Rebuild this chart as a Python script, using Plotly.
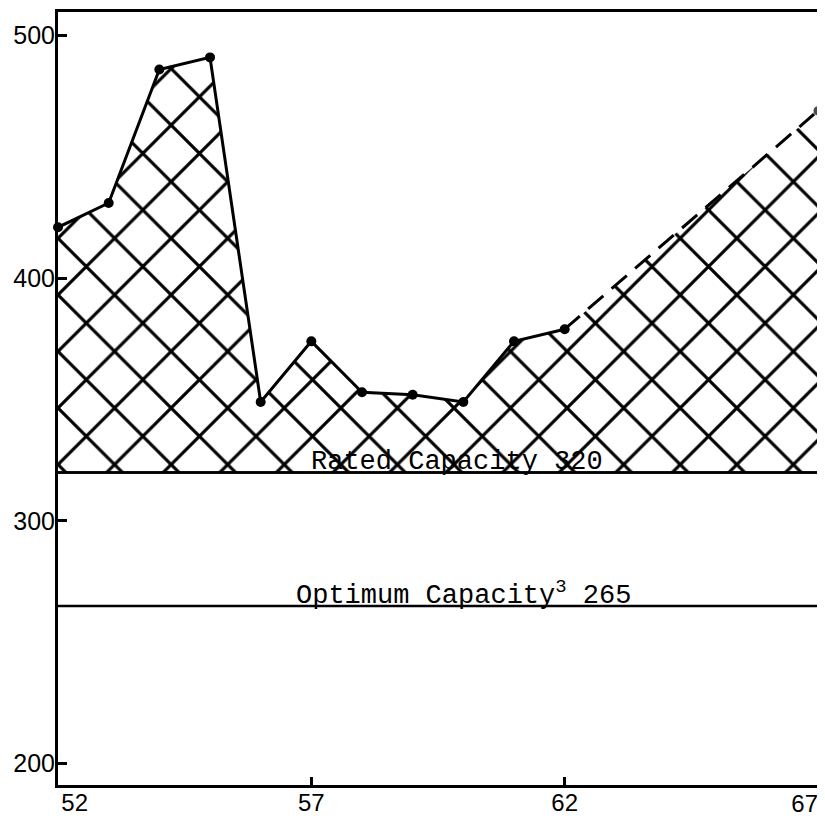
import plotly.graph_objects as go

# ---- data ----
years_actual = [52, 53, 54, 55, 56, 57, 58, 59, 60, 61, 62]
values_actual = [421, 431, 486, 491, 349, 374, 353, 352, 349, 374, 379]
years_projected = [62, 67]
values_projected = [379, 469]
rated_capacity = 320
optimum_capacity = 265
x_ticks = [52, 57, 62, 67]
x_tick_labels = ["52", "57", "62", "67"]
y_ticks = [200, 300, 400, 500]
x_span = [52, 67]

all_years = years_actual + years_projected[1:]
all_values = values_actual + values_projected[1:]

NB = "\u00a0"
# first three labels on the main axis (first one nudged right), last one on an overlay axis
main_tick_text = [NB * 5 + x_tick_labels[0], x_tick_labels[1], x_tick_labels[2], ""]

fig = go.Figure()

# baseline for hatch (rated capacity)
fig.add_trace(go.Scatter(
    x=x_span, y=[rated_capacity] * len(x_span), mode="lines",
    line=dict(color="black", width=2.5), showlegend=False, hoverinfo="skip"))

# hatched area between rated capacity and utilisation curve
fig.add_trace(go.Scatter(
    x=all_years, y=all_values, mode="lines", line=dict(width=0, color="rgba(0,0,0,0)"),
    fill="tonexty", fillcolor="white",
    fillpattern=dict(shape="x", size=40, solidity=0.15, fgcolor="black",
                     bgcolor="white", fgopacity=1, fillmode="replace"),
    showlegend=False, hoverinfo="skip"))

# optimum capacity line
fig.add_trace(go.Scatter(
    x=x_span, y=[optimum_capacity] * len(x_span), mode="lines",
    line=dict(color="black", width=2.5), showlegend=False))

# rated capacity line on top
fig.add_trace(go.Scatter(
    x=x_span, y=[rated_capacity] * len(x_span), mode="lines",
    line=dict(color="black", width=2.5), showlegend=False))

# projected dashed segment
fig.add_trace(go.Scatter(
    x=years_projected, y=values_projected, mode="lines+markers",
    line=dict(color="black", width=3, dash="20px,11px"),
    marker=dict(size=[0, 10], color="black"), cliponaxis=False, showlegend=False))

# actual curve
fig.add_trace(go.Scatter(
    x=years_actual, y=values_actual, mode="lines+markers",
    line=dict(color="black", width=3),
    marker=dict(size=10, color="black"), cliponaxis=False, showlegend=False))

# invisible trace to anchor the overlay axis carrying the last tick label
fig.add_trace(go.Scatter(
    x=x_span, y=[rated_capacity] * len(x_span), mode="lines", xaxis="x2",
    line=dict(width=0, color="rgba(0,0,0,0)"), showlegend=False, hoverinfo="skip"))

mono = "Liberation Mono"
fig.add_annotation(x=56.95, y=rated_capacity, xref="x", yref="y",
                   text="Rated Capacity 320", showarrow=False,
                   xanchor="left", yanchor="bottom", yshift=-7,
                   font=dict(family=mono, size=27, color="black"))
fig.add_annotation(x=56.66, y=optimum_capacity, xref="x", yref="y",
                   text="Optimum Capacity<sup>3</sup> 265", showarrow=False,
                   xanchor="left", yanchor="bottom", yshift=-7,
                   font=dict(family=mono, size=27, color="black"))

tick_font = dict(size=24, family="Liberation Sans", color="black")

fig.update_layout(
    width=815, height=815,
    margin=dict(l=50, r=5, t=4, b=38, autoexpand=False),
    paper_bgcolor="white", plot_bgcolor="white",
    font=dict(family="Liberation Sans", color="black"),
    showlegend=False,
    xaxis2=dict(
        overlaying="x", side="bottom", anchor="y", range=x_span,
        tickvals=x_ticks[-1:], ticktext=x_tick_labels[-1:],
        ticklabelposition="outside left", ticklabelstandoff=2,
        showgrid=False, zeroline=False, showline=False, ticks="",
        automargin=False, tickfont=tick_font),
)
fig.layout.xaxis.update(
    range=x_span, tickvals=x_ticks, ticktext=main_tick_text, automargin=False,
    showgrid=False, zeroline=False, showline=True, linewidth=3, linecolor="black",
    mirror=True, ticks="inside", ticklen=8, tickwidth=3, tickcolor="black",
    ticklabelstandoff=-6, tickfont=tick_font)
fig.update_yaxes(
    range=[191.2, 509.7], tickvals=y_ticks, ticktext=[str(t) for t in y_ticks],
    automargin=False,
    showgrid=False, zeroline=False, showline=True, linewidth=3, linecolor="black",
    mirror=True, ticks="inside", ticklen=9, tickwidth=3, tickcolor="black",
    ticklabelstandoff=-5,
    tickfont=dict(size=25, family="Liberation Sans", color="black"))

fig.write_html("out.html")
